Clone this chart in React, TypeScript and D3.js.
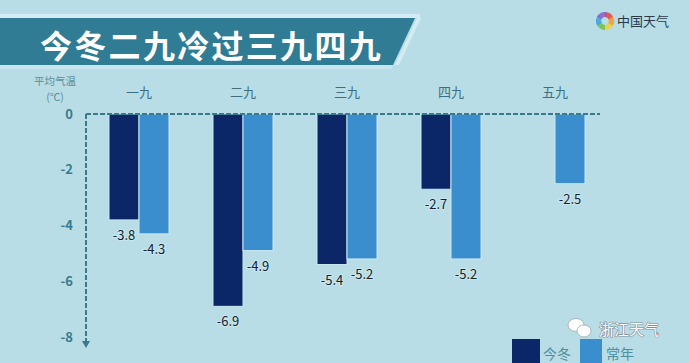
import React from "react";
import * as d3 from "d3";

const categories = ["一九", "二九", "三九", "四九", "五九"];
const seriesNames = ["今冬", "常年"];
const thisWinter: (number | null)[] = [-3.8, -6.9, -5.4, -2.7, null];
const normalYear: (number | null)[] = [-4.3, -4.9, -5.2, -5.2, -2.5];
const yTicks = [0, -2, -4, -6, -8];
const title = "今冬二九冷过三九四九";

const W = 689;
const H = 363;
const colors = ["#0b2768", "#3b8ecd"];

export default function App() {
  const x = d3.scaleBand<string>().domain(categories).range([87, 607]).paddingInner(0.423).paddingOuter(0.2115);
  const xs = d3.scaleBand<string>().domain(seriesNames).range([0, x.bandwidth()]).padding(0);
  const y = d3.scaleLinear().domain([0, -8]).range([114, 337]);
  const series = [thisWinter, normalYear];
  const axisColor = "#3b7a8a";
  const font = "'Noto Sans CJK SC', 'Noto Sans', sans-serif";

  return (
    <div style={{ position: "absolute", left: 0, top: 0 }}>
      <svg width={W} height={H} style={{ display: "block" }} fontFamily={font}>
        <rect width={W} height={H} fill="#b8dde6" />
        {/* banner */}
        <rect x={0} y={14} width={420} height={4} fill="#d2ecf2" />
        <polygon points="0,18 415,18 393,65 0,65" fill="#2f7c94" />
        <polygon points="0,65 393,65 391,69 0,69" fill="#c6e5ee" />
        <polygon points="417,18 421,18 399,65 395,65" fill="#d2ecf2" />
        <text x={40} y={58} fill="#ffffff" fontSize={32} fontWeight={700} letterSpacing={2.3}>{title}</text>

        {/* logo */}
        <g transform="translate(605,21)">
          {["#e8413c", "#f39a2b", "#f2d234", "#6cc04a", "#3aa0e0", "#8c5bc8"].map((c, i) => {
            const a0 = (i * Math.PI) / 3;
            const arc = d3.arc()({ innerRadius: 4, outerRadius: 9, startAngle: a0, endAngle: a0 + Math.PI / 3 + 0.2 } as any);
            return <path key={i} d={arc || ""} fill={c} opacity={0.85} />;
          })}
        </g>
        <text x={617} y={26} fontSize={13} fill="#2a3a48">中国天气</text>

        {/* axis title */}
        <text x={55} y={85} fontSize={10.5} fill="#5b8d9a" textAnchor="middle">平均气温</text>
        <text x={55} y={101} fontSize={10.5} fill="#5b8d9a" textAnchor="middle">(℃)</text>

        {/* y tick labels */}
        {yTicks.map((t) => (
          <text key={t} x={73} y={y(t)} dy="0.35em" fontSize={13} fontWeight={700} fill={axisColor} textAnchor="end">
            {t}
          </text>
        ))}

        {/* category labels */}
        {categories.map((c) => (
          <text key={c} x={(x(c) as number) + x.bandwidth() / 2} y={97} fontSize={13} fill="#3c6f80" textAnchor="middle">
            {c}
          </text>
        ))}

        {/* bars */}
        {categories.map((c, i) =>
          series.map((s, j) => {
            const v = s[i];
            if (v === null) return null;
            const bx = (x(c) as number) + (xs(seriesNames[j]) as number);
            const bw = xs.bandwidth();
            return (
              <g key={c + j}>
                <rect x={bx} y={y(0)} width={bw} height={y(v) - y(0)} fill={colors[j]} stroke="#cbe8f0" strokeWidth={1} />
                <text x={bx + bw / 2} y={y(v) + 20} fontSize={13} fill="#14202e" textAnchor="middle" stroke="#c9e7ef" strokeWidth={2} paintOrder="stroke">
                  {v}
                </text>
              </g>
            );
          })
        )}

        {/* axes */}
        <line x1={86} x2={600} y1={y(0)} y2={y(0)} stroke={axisColor} strokeWidth={2} strokeDasharray="5,2" />
        <line x1={86} x2={86} y1={y(0)} y2={343} stroke={axisColor} strokeWidth={2} strokeDasharray="5,2" />
        <polygon points="82,341 90,341 86,348" fill={axisColor} />

        {/* wechat watermark */}
        <g fill="#ffffff" stroke="#9aaab0" strokeWidth={0.8}>
          <ellipse cx={576} cy={325} rx={8} ry={6.5} />
          <ellipse cx={584} cy={331} rx={7} ry={6} />
        </g>
        <text x={599} y={335} fontSize={15} fill="#ffffff" stroke="#7f8f96" strokeWidth={1.2} paintOrder="stroke">浙江天气</text>

        {/* legend */}
        <rect x={512} y={339} width={28} height={30} fill={colors[0]} />
        <text x={543} y={359} fontSize={14} fill="#4f8fa0">{seriesNames[0]}</text>
        <rect x={580} y={339} width={22} height={30} fill={colors[1]} />
        <text x={606} y={359} fontSize={14} fill="#4f8fa0">{seriesNames[1]}</text>
      </svg>
    </div>
  );
}
